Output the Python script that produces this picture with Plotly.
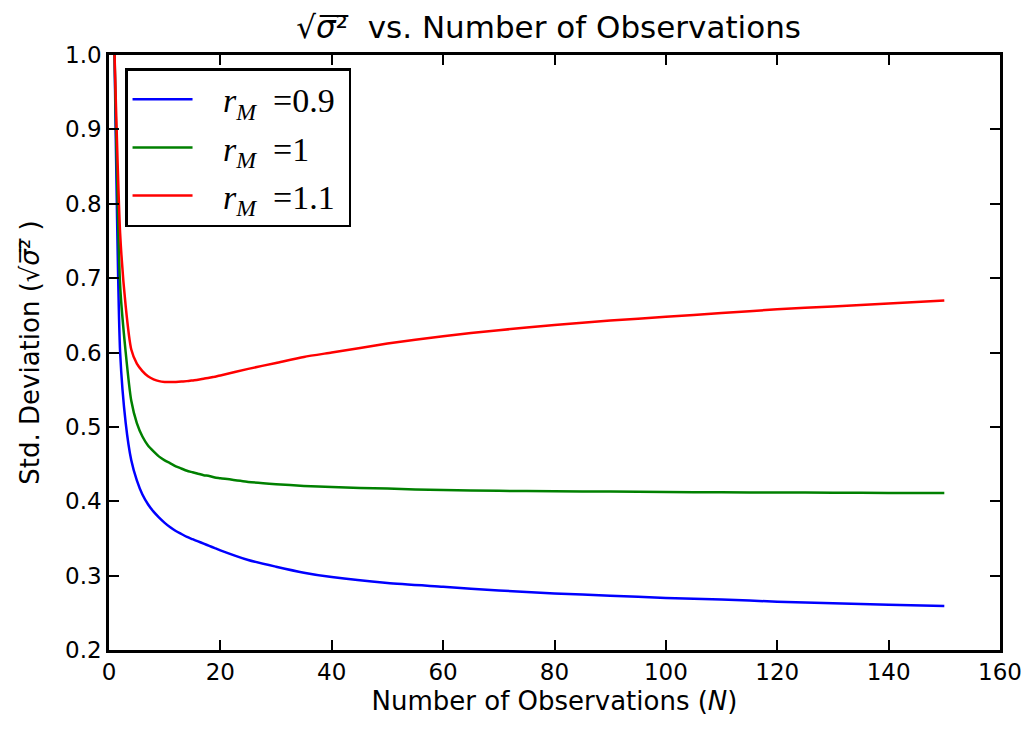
import plotly.graph_objects as go

# Number of observations at which the estimate was evaluated
n_obs = [1, 2, 3, 4, 5, 6, 7, 8, 9, 10, 11, 12, 13, 14, 15, 16, 17, 18, 19, 20,
         25, 30, 35, 40, 50, 60, 70, 80, 90, 100, 110, 120, 130, 140, 150]

# Standard deviation sqrt(sigma^2) for each r_M
std_r09 = [1.00, 0.600, 0.505, 0.455, 0.428, 0.409, 0.396, 0.386, 0.378, 0.371,
           0.365, 0.360, 0.356, 0.352, 0.349, 0.346, 0.343, 0.340, 0.337, 0.334,
           0.321, 0.312, 0.304, 0.298, 0.290, 0.285, 0.280, 0.276, 0.273,
           0.270, 0.268, 0.265, 0.263, 0.261, 0.259]
std_r10 = [1.00, 0.690, 0.600, 0.535, 0.505, 0.487, 0.475, 0.467, 0.460, 0.455,
           0.451, 0.447, 0.444, 0.441, 0.439, 0.437, 0.435, 0.434, 0.432, 0.431,
           0.426, 0.423, 0.4205, 0.419, 0.417, 0.415, 0.414, 0.4135, 0.413,
           0.4125, 0.412, 0.4118, 0.4115, 0.4112, 0.411]
std_r11 = [1.00, 0.760, 0.662, 0.604, 0.585, 0.575, 0.568, 0.564, 0.5615, 0.5605,
           0.5602, 0.5605, 0.561, 0.5615, 0.5625, 0.5635, 0.5648, 0.566, 0.5675, 0.569,
           0.578, 0.586, 0.594, 0.600, 0.612, 0.622, 0.630, 0.637, 0.643,
           0.648, 0.653, 0.658, 0.662, 0.666, 0.670]

NB = "\u00a0"
series = [
    (NB * 3 + "<i>r</i><sub><i>M</i></sub>" + NB * 2 + "=0.9" + NB, std_r09, "#0000ff"),
    (NB * 3 + "<i>r</i><sub><i>M</i></sub>" + NB * 2 + "=1", std_r10, "#008000"),
    (NB * 3 + "<i>r</i><sub><i>M</i></sub>" + NB * 2 + "=1.1", std_r11, "#ff0000"),
]

x_ticks = [0, 20, 40, 60, 80, 100, 120, 140, 160]
y_ticks = [0.2, 0.3, 0.4, 0.5, 0.6, 0.7, 0.8, 0.9, 1.0]

fig = go.Figure()
for i, (name, ys, color) in enumerate(series):
    fig.add_trace(go.Scatter(
        x=n_obs, y=ys, mode="lines", name=name, legendgroup=f"g{i}",
        line=dict(color=color, width=2.5, shape="spline", smoothing=0.6),
    ))

axis_common = dict(
    showline=True, linecolor="black", linewidth=2.5, mirror="ticks",
    ticks="inside", ticklen=10, tickwidth=1.5, tickcolor="black",
    showgrid=False, zeroline=False,
    tickfont=dict(family="DejaVu Sans", size=23, color="black"),
)

fig.update_layout(
    width=1035, height=731,
    margin=dict(l=109, r=35, t=55, b=81),
    paper_bgcolor="white", plot_bgcolor="white",
    title=dict(
        text="√<i>σ</i>̅²̅  vs. Number of Observations",
        x=0.53, xanchor="center", y=0.978, yanchor="top",
        font=dict(family="DejaVu Sans", size=31, color="black"),
    ),
    xaxis=dict(
        range=[0, 160], tickvals=x_ticks,
        title=dict(text="Number of Observations (<i>N</i>)",
                   font=dict(family="DejaVu Sans", size=26, color="black"),
                   standoff=8),
        **axis_common,
    ),
    yaxis=dict(
        range=[0.2, 1.0], tickvals=y_ticks, tickformat=".1f",
        title=dict(text="Std. Deviation (√<i>σ</i>̅²̅ )",
                   font=dict(family="DejaVu Sans", size=26, color="black"),
                   standoff=18),
        **axis_common,
    ),
    legend=dict(
        x=0.018, y=0.978, xanchor="left", yanchor="top",
        bgcolor="white", bordercolor="black", borderwidth=2.5,
        font=dict(family="Liberation Serif", size=34, color="black"),
        tracegroupgap=1, itemwidth=60,
    ),
    showlegend=True,
)

fig.write_html("out.html")
